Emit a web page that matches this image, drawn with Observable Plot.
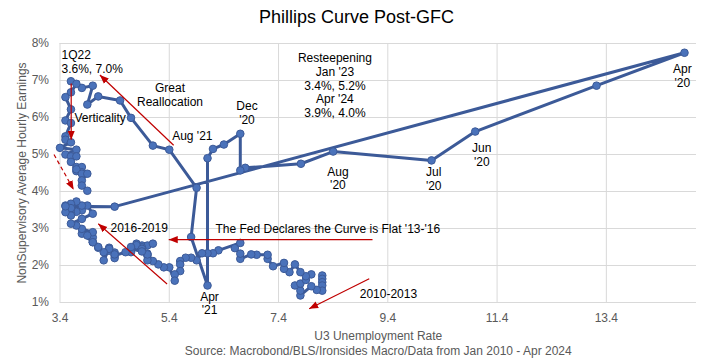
<!DOCTYPE html>
<html><head><meta charset="utf-8">
<script src="https://cdn.jsdelivr.net/npm/d3@7"></script>
<script src="https://cdn.jsdelivr.net/npm/@observablehq/plot@0.6"></script>
<style>
body{margin:0;background:#fff;width:713px;height:358px;overflow:hidden;font-family:"Liberation Sans",Arial,sans-serif;}
#title{height:34px;line-height:34px;text-align:center;font-size:18px;color:#000;}
</style></head><body>
<div id="title">Phillips Curve Post-GFC</div>
<div id="chart"></div>
<script>
// U3 unemployment rate (%), monthly from Jan 2012 to Apr 2024
const u3 = [
  8.2,8.2,8.2,8.2,8.2,8.1,8.0,7.8,7.8,7.7,7.8,7.9,   // 2012
  8.0,7.9,7.8,7.7,7.6,7.5,7.5,7.3,7.2,7.2,7.0,6.9,   // 2013
  6.7,6.7,6.6,6.7,6.3,6.2,6.1,6.0,5.9,5.8,5.7,5.6,   // 2014
  5.6,5.6,5.5,5.5,5.4,5.3,5.2,5.1,5.0,4.9,5.0,5.0,   // 2015
  4.9,4.9,5.0,5.1,4.8,4.9,4.8,4.9,5.0,4.9,4.7,4.7,   // 2016
  4.7,4.6,4.4,4.4,4.4,4.3,4.3,4.4,4.3,4.2,4.2,4.1,   // 2017
  4.0,4.1,4.0,4.0,3.8,4.0,3.8,3.9,3.7,3.6,3.8,4.0,   // 2018
  3.9,3.8,3.8,3.7,3.6,3.6,3.7,3.6,3.5,3.6,3.6,3.6,   // 2019
  3.5,3.5,4.4,14.83,13.22,11.0,10.2,8.4,7.81,6.79,6.7,6.7, // 2020
  6.4,6.2,6.1,6.1,5.8,5.9,5.4,5.1,4.7,4.5,4.1,3.9,   // 2021
  4.0,3.8,3.6,3.7,3.6,3.5,3.6,3.5,3.6,3.5,3.5,3.6,   // 2022
  3.4,3.7,3.5,3.6,3.7,3.6,3.7,3.8,3.7,3.8,3.7,3.8,   // 2023
  3.9,3.8,3.8,3.9                                     // 2024
];
// Nonsupervisory average hourly earnings, % y/y
const ahe = [
  1.73,1.64,1.55,1.46,1.32,1.34,1.44,1.19,1.32,1.46,1.51,1.61, // 2012
  1.76,1.71,1.82,2.03,1.82,1.91,2.07,1.98,2.18,2.29,2.29,2.30, // 2013
  2.18,2.32,2.47,2.61,2.41,2.33,2.33,2.33,2.14,2.21,2.21,2.12, // 2014
  2.03,1.85,1.76,1.59,1.95,1.95,2.03,2.12,2.32,2.43,2.27,2.14, // 2015
  2.45,2.54,2.54,2.59,2.59,2.49,2.55,2.45,2.30,2.38,2.45,2.36, // 2016
  2.50,2.36,2.27,2.20,2.35,2.48,2.40,2.30,2.45,2.14,2.36,2.48, // 2017
  2.63,2.50,2.76,2.63,2.86,2.90,2.99,2.81,3.08,3.13,3.26,3.40, // 2018
  3.62,3.49,3.62,3.73,3.67,3.49,3.45,3.40,3.62,3.50,3.55,3.35, // 2019
  3.44,3.60,3.59,7.75,6.86,5.62,4.84,5.08,4.75,4.64,4.57,5.56, // 2020
  5.27,5.15,4.90,1.46,2.77,4.10,5.13,5.24,5.99,6.46,6.57,6.35, // 2021
  6.86,6.80,6.98,6.91,6.68,6.55,6.22,5.92,5.85,5.49,5.40,5.33, // 2022
  5.18,5.13,5.00,4.95,4.95,4.80,4.66,4.66,4.55,4.52,4.60,4.48, // 2023
  4.48,4.30,4.16,4.02                                          // 2024
];

const xTicks = [3.4, 5.4, 7.4, 9.4, 11.4, 13.4];
const yTicks = [1, 2, 3, 4, 5, 6, 7, 8];

// annotations (data coordinates)
const noteText = [
  "1Q22\n3.6%, 7.0%", "Great\nReallocation", "Verticality", "Aug '21", "Dec\n'20",
  "Resteepening\nJan '23\n3.4%, 5.2%\nApr '24\n3.9%, 4.0%",
  "Aug\n'20", "Jul\n'20", "Jun\n'20", "Apr\n'20", "Apr\n'21",
  "2016-2019", "The Fed Declares the Curve is Flat '13-'16", "2010-2013"
];
const noteX = [3.427, 5.413, 3.665, 5.453, 6.822, 8.432, 8.487, 10.24, 11.12, 14.79, 6.136, 4.324, 6.245, 8.886];
const noteY = [7.518, 6.626, 6.0, 5.514, 6.135, 6.873, 4.365, 4.34, 5.0, 7.135, 0.986, 3.035, 2.99, 1.235];
const noteAnchor = ["start","middle","start","start","middle","middle","middle","middle","middle","middle","middle","start","start","start"];

// red arrows
const arrowX1 = [5.48, 3.605, 3.29, 5.36, 9.12, 9.06];
const arrowY1 = [5.25, 6.92, 5.00, 1.50, 2.70, 1.64];
const arrowX2 = [4.13, 3.605, 3.65, 4.10, 5.39, 7.96];
const arrowY2 = [7.15, 5.40, 4.05, 3.13, 2.70, 0.83];
const arrowDashed = [false, false, true, false, false, false];

const data = u3.map((x, i) => ({u3: x, ahe: ahe[i]}));
const notes = noteText.map((t, i) => ({t, x: noteX[i], y: noteY[i], a: noteAnchor[i]}));
const arrows = arrowX1.map((x1, i) => ({x1, y1: arrowY1[i], x2: arrowX2[i], y2: arrowY2[i], dashed: arrowDashed[i]}));

const RED = "#C00000";
function headMarker(color, context) {
  const doc = (context && context.document) || document;
  const ns = "http://www.w3.org/2000/svg";
  const m = doc.createElementNS(ns, "marker");
  m.setAttribute("viewBox", "-5 -5 10 10");
  m.setAttribute("markerWidth", 9);
  m.setAttribute("markerHeight", 9);
  m.setAttribute("markerUnits", "userSpaceOnUse");
  m.setAttribute("orient", "auto");
  m.setAttribute("refX", 5);
  m.setAttribute("refY", 0);
  const p = doc.createElementNS(ns, "path");
  p.setAttribute("d", "M-5,-4L5,0L-5,4Z");
  p.setAttribute("fill", color);
  p.setAttribute("stroke", "none");
  m.appendChild(p);
  return m;
}
function arrowMark(rows, dash) {
  const opts = {x1: "x1", y1: "y1", x2: "x2", y2: "y2", stroke: RED, strokeWidth: 1.2, strokeDasharray: dash};
  try { return Plot.link(rows, {...opts, markerEnd: headMarker}); }
  catch (e) { return Plot.link(rows, {...opts, markerEnd: "arrow"}); }
}

const chart = Plot.plot({
  width: 713, height: 324,
  marginTop: 9, marginBottom: 56, marginLeft: 59.5, marginRight: 17,
  style: {fontFamily: "'Liberation Sans', Arial, sans-serif", fontSize: "12px", background: "white", overflow: "visible"},
  x: {domain: [3.4, 15.05]},
  y: {domain: [1, 8]},
  marks: [
    Plot.gridY(yTicks, {stroke: "#d9d9d9", strokeOpacity: 1}),
    Plot.gridX(xTicks, {stroke: "#d9d9d9", strokeOpacity: 1}),
    Plot.axisX(xTicks, {tickSize: 0, tickPadding: 11, tickFormat: d => d.toFixed(1), fontSize: 12, color: "#595959", label: null}),
    Plot.axisY(yTicks, {tickSize: 0, tickPadding: 11, tickFormat: d => d + "%", fontSize: 12, color: "#595959", label: null}),
    Plot.text(["NonSupervisory Average Hourly Earnings"], {frameAnchor: "left", textAnchor: "middle", rotate: -90, dx: -38, fill: "#595959", fontSize: 12}),
    Plot.text(["U3 Unemployment Rate"], {frameAnchor: "bottom", dy: 34, lineAnchor: "middle", fill: "#595959", fontSize: 12}),
    Plot.text(["Source: Macrobond/BLS/Ironsides Macro/Data from Jan 2010 - Apr 2024"], {frameAnchor: "bottom", dy: 49, lineAnchor: "middle", fill: "#595959", fontSize: 12}),
    Plot.line(data, {x: "u3", y: "ahe", stroke: "#3C5A98", strokeWidth: 3, strokeLinejoin: "round"}),
    Plot.dot(data, {x: "u3", y: "ahe", r: 3.8, fill: "#4A72BA", stroke: "#3C5A98", strokeWidth: 1}),
    arrowMark(arrows.filter(d => !d.dashed), null),
    arrowMark(arrows.filter(d => d.dashed), "4,3"),
    Plot.text(notes, {x: "x", y: "y", text: "t", textAnchor: "start", filter: d => d.a === "start", fill: "#000", fontSize: 12, lineHeight: 1.15}),
    Plot.text(notes, {x: "x", y: "y", text: "t", textAnchor: "middle", filter: d => d.a === "middle", fill: "#000", fontSize: 12, lineHeight: 1.15})
  ]
});
document.getElementById("chart").appendChild(chart);
</script>
</body></html>
